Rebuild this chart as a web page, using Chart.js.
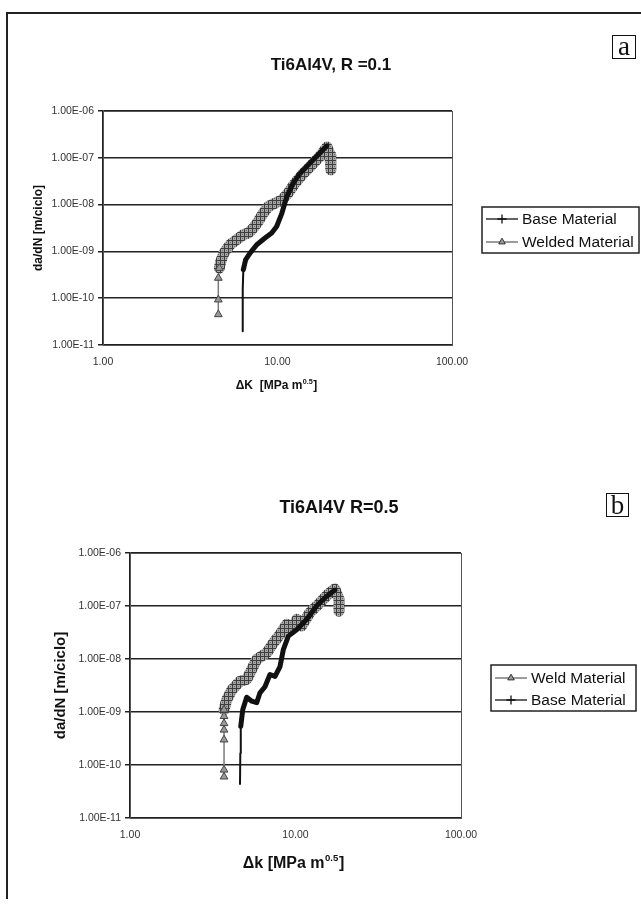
<!DOCTYPE html>
<html><head><meta charset="utf-8">
<script src="https://cdn.jsdelivr.net/npm/chart.js@4.4.0/dist/chart.umd.min.js"></script>
<style>
html,body{margin:0;padding:0;background:#fff;}
body{width:641px;height:921px;position:relative;overflow:hidden;}
#frame{position:absolute;left:6px;top:12px;width:640px;height:885px;border-top:2px solid #222;border-left:2px solid #222;}
.wrap{position:absolute;left:0;}
.tag{position:absolute;border:1.5px solid #111;font-family:"Liberation Serif","DejaVu Serif",serif;color:#111;text-align:center;box-sizing:border-box;}
</style></head><body>
<div id="frame"></div>
<div class="wrap" style="top:0;width:641px;height:460px"><canvas id="ca" width="641" height="460"></canvas></div>
<div class="wrap" style="top:460px;width:641px;height:461px"><canvas id="cb" width="641" height="461"></canvas></div>
<div class="tag" style="left:612px;top:35px;width:24px;height:24px;font-size:27px;line-height:20px;">a</div>
<div class="tag" style="left:606px;top:493px;width:23px;height:24px;font-size:27px;line-height:22px;">b</div>
<script>
// ---- data ----
const xTickValues = [1, 10, 100];
const xTickLabels = ['1.00', '10.00', '100.00'];
const yTickValues = [1e-11, 1e-10, 1e-9, 1e-8, 1e-7, 1e-6];
const yTickLabels = ['1.00E-11', '1.00E-10', '1.00E-09', '1.00E-08', '1.00E-07', '1.00E-06'];

const titleA = 'Ti6Al4V, R =0.1';
const titleB = 'Ti6Al4V R=0.5';
const seriesA = ['Base Material', 'Welded Material'];
const seriesB = ['Weld Material', 'Base Material'];

const aBaseK    = [6.32, 6.32, 6.37, 6.57, 6.96, 7.60, 8.48, 9.26, 9.89, 10.6, 11.3, 12.3, 13.5, 15.4, 17.5, 19.2];
const aBaseRate = [1.97e-11, 1.52e-10, 4.07e-10, 6.65e-10, 9.2e-10, 1.39e-9, 1.93e-9, 2.47e-9, 3.41e-9, 6.6e-9, 1.48e-8, 2.87e-8, 4.7e-8, 7.8e-8, 1.27e-7, 1.8e-7];

const aWeldK    = [4.58, 4.58, 4.58, 4.64, 4.73, 4.93, 5.35, 5.84, 6.37, 6.80, 7.27, 7.76, 8.29, 8.86, 9.67, 10.6, 11.5, 12.6, 13.8, 15.4, 17.5, 19.2, 20.0, 20.2];
const aWeldRate = [4.5e-11, 9.3e-11, 2.7e-10, 4.4e-10, 6.1e-10, 9.2e-10, 1.39e-9, 1.78e-9, 2.27e-9, 2.47e-9, 3.15e-9, 4.37e-9, 6.6e-9, 9.1e-9, 1.07e-8, 1.26e-8, 1.76e-8, 2.87e-8, 4.3e-8, 6.5e-8, 1.07e-7, 1.7e-7, 1.15e-7, 5.5e-8];

const bWeldK    = [3.70, 3.70, 3.70, 3.70, 3.70, 3.70, 3.70, 3.84, 4.12, 4.62, 5.07, 5.56, 5.83, 6.70, 7.34, 8.06, 8.84, 9.48, 10.2, 10.9, 12.2, 14.1, 15.5, 17.3, 18.3, 18.3];
const bWeldRate = [6.0e-11, 8.1e-11, 3.0e-10, 4.6e-10, 6.1e-10, 8.3e-10, 1.1e-9, 1.7e-9, 2.6e-9, 3.8e-9, 4.1e-9, 7.3e-9, 9.8e-9, 1.3e-8, 2.0e-8, 2.9e-8, 4.5e-8, 3.6e-8, 5.6e-8, 4.2e-8, 7.5e-8, 1.16e-7, 1.6e-7, 2.1e-7, 1.35e-7, 8.0e-8];

const bBaseK    = [4.62, 4.64, 4.67, 4.80, 5.07, 5.44, 5.83, 6.10, 6.54, 7.01, 7.52, 8.06, 8.44, 9.05, 10.2, 11.7, 13.4, 15.3, 17.3];
const bBaseRate = [4.4e-11, 1.66e-10, 5.4e-10, 1.1e-9, 1.9e-9, 1.6e-9, 1.5e-9, 2.3e-9, 3.0e-9, 5.1e-9, 4.7e-9, 7.2e-9, 1.5e-8, 2.7e-8, 3.6e-8, 5.6e-8, 1.0e-7, 1.5e-7, 2.0e-7];

// ---- styling helpers ----
const FONT = '"Liberation Sans", Arial, sans-serif';
function makeHatch(){
  const c = document.createElement('canvas'); c.width = 4; c.height = 4;
  const g = c.getContext('2d');
  g.fillStyle = '#a6a6a6'; g.fillRect(0,0,4,4);
  g.fillStyle = '#3c3c3c'; g.fillRect(0,0,4,1); g.fillRect(0,0,1,4);
  g.fillStyle = '#6a6a6a'; g.fillRect(2,2,1,1);
  return g.createPattern(c, 'repeat');
}
const hatch = makeHatch();
function pts(xs, ys){ return xs.map((x, i) => ({x: x, y: ys[i]})); }

function weldDs(label, xs, ys, thinUntil){
  return {
    label, data: pts(xs, ys), showLine: true, order: 1, kind: 'weld',
    borderColor: hatch, borderWidth: 11, borderJoinStyle: 'round', borderCapStyle: 'round',
    segment: {
      borderWidth: c => c.p1DataIndex <= thinUntil ? 1.5 : 11,
      borderColor: c => c.p1DataIndex <= thinUntil ? '#7a7a7a' : hatch
    },
    pointStyle: 'triangle',
    pointRadius: c => c.dataIndex <= thinUntil ? 4.5 : 0,
    pointBackgroundColor: '#999', pointBorderColor: '#444', pointBorderWidth: 1
  };
}
function baseDs(label, xs, ys, thinUntil){
  return {
    label, data: pts(xs, ys), showLine: true, order: 0, kind: 'base',
    borderColor: '#111', borderWidth: 5, borderJoinStyle: 'round', borderCapStyle: 'round',
    segment: { borderWidth: c => c.p1DataIndex <= thinUntil ? 2 : 5 },
    pointStyle: 'cross', pointRadius: 0
  };
}

const frameBox = {
  id: 'frameBox',
  beforeDatasetsDraw(chart){
    const a = chart.chartArea, ctx = chart.ctx;
    ctx.save(); ctx.strokeStyle = '#555'; ctx.lineWidth = 1;
    ctx.strokeRect(a.left + 0.5, a.top + 0.5, a.right - a.left, a.bottom - a.top);
    ctx.restore();
  }
};
const sheetTitle = {
  id: 'sheetTitle',
  afterDraw(chart, args, o){
    const ctx = chart.ctx;
    ctx.save(); ctx.fillStyle = '#111';
    ctx.font = 'bold ' + o.size + 'px ' + FONT;
    ctx.textAlign = 'center'; ctx.textBaseline = 'middle';
    ctx.fillText(o.text, o.cx, o.cy);
    ctx.restore();
  }
};
const boxLegend = {
  id: 'boxLegend',
  afterDraw(chart, args, o){
    const ctx = chart.ctx;
    ctx.save();
    ctx.strokeStyle = '#222'; ctx.lineWidth = 1.5;
    ctx.strokeRect(o.x, o.y, o.w, o.h);
    ctx.font = o.fontSize + 'px ' + FONT;
    ctx.textBaseline = 'middle'; ctx.textAlign = 'left';
    chart.data.datasets.forEach((ds, i) => {
      const y = o.rows[i];
      const weld = ds.kind === 'weld';
      ctx.strokeStyle = weld ? '#666' : '#111';
      ctx.lineWidth = 1.3;
      ctx.beginPath(); ctx.moveTo(o.lx1, y); ctx.lineTo(o.lx2, y); ctx.stroke();
      const mx = (o.lx1 + o.lx2) / 2;
      if (weld){
        ctx.fillStyle = '#999'; ctx.strokeStyle = '#333'; ctx.lineWidth = 1;
        Chart.helpers.drawPoint(ctx, {pointStyle: 'triangle', radius: 3.8, rotation: 0, borderWidth: 1}, mx, y);
      } else {
        ctx.strokeStyle = '#111'; ctx.lineWidth = 1.3;
        Chart.helpers.drawPoint(ctx, {pointStyle: 'cross', radius: 4.5, rotation: 0, borderWidth: 1.3}, mx, y);
      }
      ctx.fillStyle = '#111';
      ctx.fillText(ds.label, o.tx, y + 1);
    });
    ctx.restore();
  }
};
const xTitleSup = {
  id: 'xTitleSup',
  afterDraw(chart, args, o){
    const ctx = chart.ctx;
    ctx.save(); ctx.fillStyle = '#111'; ctx.textBaseline = 'alphabetic'; ctx.textAlign = 'left';
    const f1 = 'bold ' + o.size + 'px ' + FONT, f2 = 'bold ' + (o.size * 0.6) + 'px ' + FONT;
    ctx.font = f1; const w1 = ctx.measureText(o.main).width, w3 = ctx.measureText(o.close).width;
    ctx.font = f2; const w2 = ctx.measureText(o.sup).width;
    let x = o.cx - (w1 + w2 + w3) / 2; const base = o.cy + o.size * 0.36;
    ctx.font = f1; ctx.fillText(o.main, x, base); x += w1;
    ctx.font = f2; ctx.fillText(o.sup, x + 0.5, base - o.size * 0.45); x += w2 + 1;
    ctx.font = f1; ctx.fillText(o.close, x, base);
    ctx.restore();
  }
};

function makeChart(id, c){
  return new Chart(document.getElementById(id), {
    type: 'scatter',
    data: { datasets: c.datasets },
    plugins: [frameBox, sheetTitle, boxLegend, xTitleSup],
    options: {
      responsive: false, animation: false, events: [],
      layout: { padding: { left: 0, right: c.padRight, top: c.padTop, bottom: 0 } },
      plugins: {
        legend: { display: false }, tooltip: { enabled: false }, title: { display: false },
        sheetTitle: c.title,
        boxLegend: c.legend,
        xTitleSup: c.xTitle
      },
      scales: {
        x: {
          type: 'logarithmic', min: 1, max: 100,
          afterBuildTicks: s => { s.ticks = xTickValues.map(v => ({value: v})); },
          afterFit: s => { s.height = c.xHeight; },
          grid: { display: false, drawTicks: false }, border: { display: false },
          ticks: { padding: c.xTickPad, color: '#333', autoSkip: false, maxRotation: 0,
            font: { family: FONT, size: 10.5 }, callback: (v, i) => xTickLabels[i] }
        },
        y: {
          type: 'logarithmic', min: 1e-11, max: 1e-6,
          afterBuildTicks: s => { s.ticks = yTickValues.map(v => ({value: v})); },
          afterFit: s => { s.width = c.yWidth; },
          grid: { color: '#222', lineWidth: 1.5, drawTicks: true, tickLength: 5 },
          border: { display: true, color: '#222', width: 1.5 },
          ticks: { padding: 4, color: '#333', autoSkip: false,
            font: { family: FONT, size: 10.5 }, callback: (v, i) => yTickLabels[i] },
          title: { display: true, text: 'da/dN [m/ciclo]', color: '#111',
            font: { family: FONT, size: c.yTitleSize, weight: 'bold', lineHeight: 1.2 },
            padding: { top: c.yTitlePad, bottom: 0 } }
        }
      }
    }
  });
}

makeChart('ca', {
  datasets: [ baseDs(seriesA[0], aBaseK, aBaseRate, 2), weldDs(seriesA[1], aWeldK, aWeldRate, 3) ],
  title: { text: titleA, size: 17, cx: 331, cy: 65 },
  padTop: 111, padRight: 189, xHeight: 115, yWidth: 103, xTickPad: 11,
  yTitleSize: 12, yTitlePad: 31.8,
  legend: { x: 482, y: 207, w: 157, h: 46, rows: [219, 242], lx1: 486, lx2: 518, tx: 522, fontSize: 15.5 },
  xTitle: { cx: 276, cy: 385, size: 12, main: '\u0394K  [MPa m', sup: '0.5', close: ']' }
});
makeChart('cb', {
  datasets: [ weldDs(seriesB[0], bWeldK, bWeldRate, 6), baseDs(seriesB[1], bBaseK, bBaseRate, 2) ],
  title: { text: titleB, size: 18, cx: 339, cy: 48 },
  padTop: 93, padRight: 180, xHeight: 103, yWidth: 130, xTickPad: 11,
  yTitleSize: 15, yTitlePad: 52,
  legend: { x: 491, y: 205, w: 145, h: 46, rows: [218, 240], lx1: 495, lx2: 527, tx: 531, fontSize: 15.5 },
  xTitle: { cx: 293, cy: 402, size: 16, main: '\u0394k [MPa m', sup: '0.5', close: ']' }
});
</script>
</body></html>
